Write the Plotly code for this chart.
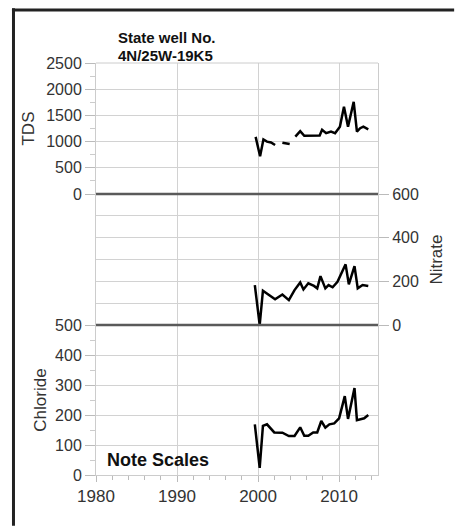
import plotly.graph_objects as go

# sample dates (decimal years) and concentrations
tds_year = [1999.7, 2000.25, 2000.66, 2001.1, 2001.6, 2002.1, 2002.5, 2003.0, 2003.9, 2004.3,
            2004.6, 2005.2, 2005.7, 2006.9, 2007.6, 2007.9, 2008.4, 2009.0, 2009.5, 2010.1,
            2010.6, 2011.1, 2011.8, 2012.2, 2012.6, 2013.0, 2013.6]
tds = [1090, 720, 1040, 1000, 985, 935, None, 980, 955, None,
       1095, 1200, 1110, 1110, 1115, 1225, 1160, 1190, 1160, 1285,
       1665, 1285, 1760, 1190, 1255, 1285, 1235]

nitrate_year = [1999.6, 2000.2, 2000.6, 2001.4, 2002.1, 2003.0, 2003.8, 2004.5, 2005.2, 2005.6,
                2006.2, 2006.9, 2007.3, 2007.7, 2008.3, 2008.7, 2009.2, 2009.8, 2010.8, 2011.2,
                2011.9, 2012.3, 2012.9, 2013.6]
nitrate = [183, 0, 157, 137, 118, 140, 114, 160, 195, 163,
           191, 179, 168, 224, 168, 183, 173, 198, 278, 186,
           270, 168, 183, 179]

cl_year = [1999.6, 2000.2, 2000.6, 2001.1, 2002.0, 2003.0, 2003.8, 2004.5, 2005.2, 2005.7,
           2006.2, 2006.8, 2007.3, 2007.8, 2008.3, 2008.8, 2009.4, 2010.0, 2010.7, 2011.1,
           2011.9, 2012.2, 2013.1, 2013.6]
chloride = [169, 24, 164, 169, 142, 141, 130, 130, 159, 131,
            131, 142, 142, 180, 158, 169, 172, 189, 263, 187,
            290, 183, 189, 200]

FONT = "Liberation Sans, Arial, sans-serif"
GRID = "#d2d2d2"
TXT = "#333333"

line_style = dict(color="black", width=2.5)

fig = go.Figure()
fig.add_trace(go.Scatter(x=tds_year, y=tds, mode="lines", line=line_style,
                         xaxis="x", yaxis="y", connectgaps=False))
fig.add_trace(go.Scatter(x=nitrate_year, y=nitrate, mode="lines", line=line_style,
                         xaxis="x", yaxis="y2"))
fig.add_trace(go.Scatter(x=cl_year, y=chloride, mode="lines", line=line_style,
                         xaxis="x", yaxis="y3"))

yax_common = dict(
    anchor="x", showgrid=True, gridcolor=GRID, gridwidth=1,
    showline=True, mirror=True, linecolor="#cccccc", linewidth=1,
    zeroline=False, ticks="outside", ticklen=10, tickcolor="#bbbbbb",
    tickfont=dict(size=16, color=TXT), automargin=False,
)

fig.update_layout(
    width=455, height=526,
    margin=dict(l=96, r=77, t=63, b=51),
    template="none",
    paper_bgcolor="white", plot_bgcolor="white",
    font=dict(family=FONT, color=TXT),
    showlegend=False,
    xaxis=dict(
        range=[1980, 2014.8], anchor="y3", tickmode="linear", tick0=1980, dtick=10,
        showgrid=True, gridcolor=GRID, gridwidth=1, zeroline=False,
        showline=True, linecolor="#cccccc", linewidth=1,
        ticks="outside", ticklen=6, tickcolor="#bbbbbb",
        tickfont=dict(size=17, color=TXT), automargin=False,
        minor=dict(dtick=2, tick0=1980, ticks="outside", ticklen=4,
                   tickcolor="#bbbbbb", showgrid=False),
    ),
    yaxis=dict(
        domain=[0.682, 1], range=[0, 2500], tickmode="linear", tick0=0, dtick=500,
        title=dict(text="TDS", font=dict(size=17, color=TXT), standoff=7),
        minor=dict(dtick=250, ticks="outside", ticklen=5, tickcolor="#cccccc", showgrid=False),
        **yax_common,
    ),
    yaxis2=dict(
        domain=[0.364, 0.682], range=[0, 600], side="right", tickmode="linear", tick0=0, dtick=200,
        title=dict(text="Nitrate", font=dict(size=17, color=TXT), standoff=12),
        minor=dict(dtick=100, ticks="", showgrid=True, gridcolor=GRID),
        **yax_common,
    ),
    yaxis3=dict(
        domain=[0, 0.364], range=[0, 500], tickmode="linear", tick0=0, dtick=100,
        title=dict(text="Chloride", font=dict(size=17, color=TXT), standoff=4),
        minor=dict(dtick=50, ticks="outside", ticklen=5, tickcolor="#cccccc", showgrid=False),
        **yax_common,
    ),
)

# dark divider lines between the stacked scales, light top edge
fig.add_shape(type="line", xref="paper", x0=0, x1=1, yref="y domain", y0=0, y1=0,
              line=dict(color="#5a5a5a", width=2.5))
fig.add_shape(type="line", xref="paper", x0=0, x1=1, yref="y2 domain", y0=0, y1=0,
              line=dict(color="#5a5a5a", width=2.5))
fig.add_shape(type="line", xref="paper", x0=0, x1=1, yref="y domain", y0=1, y1=1,
              line=dict(color="#cccccc", width=1))

# outer frame (top and left edges), kept inside the page
fig.add_shape(type="line", xref="paper", yref="paper", x0=-0.298, x1=1.27, y0=1.1286, y1=1.1286,
              line=dict(color="#222222", width=3))
fig.add_shape(type="line", xref="paper", yref="paper", x0=-0.2926, x1=-0.2926, y0=1.133, y1=-0.123,
              line=dict(color="#222222", width=3))

fig.add_annotation(text="<b>State well No.</b>", xref="paper", yref="paper",
                   x=0.071, y=1.0607, xanchor="left", yanchor="middle", showarrow=False,
                   font=dict(size=15, color="#111111"))
fig.add_annotation(text="<b>4N/25W-19K5</b>", xref="paper", yref="paper",
                   x=0.071, y=1.0194, xanchor="left", yanchor="middle", showarrow=False,
                   font=dict(size=15, color="#111111"))
fig.add_annotation(text="<b>Note Scales</b>", xref="paper", yref="paper",
                   x=0.032, y=0.0364, xanchor="left", yanchor="middle", showarrow=False,
                   font=dict(size=18, color="#111111"))

fig.write_html("out.html", config={"displayModeBar": False},
               post_script="document.body.style.margin='0';document.body.style.overflow='hidden';")
